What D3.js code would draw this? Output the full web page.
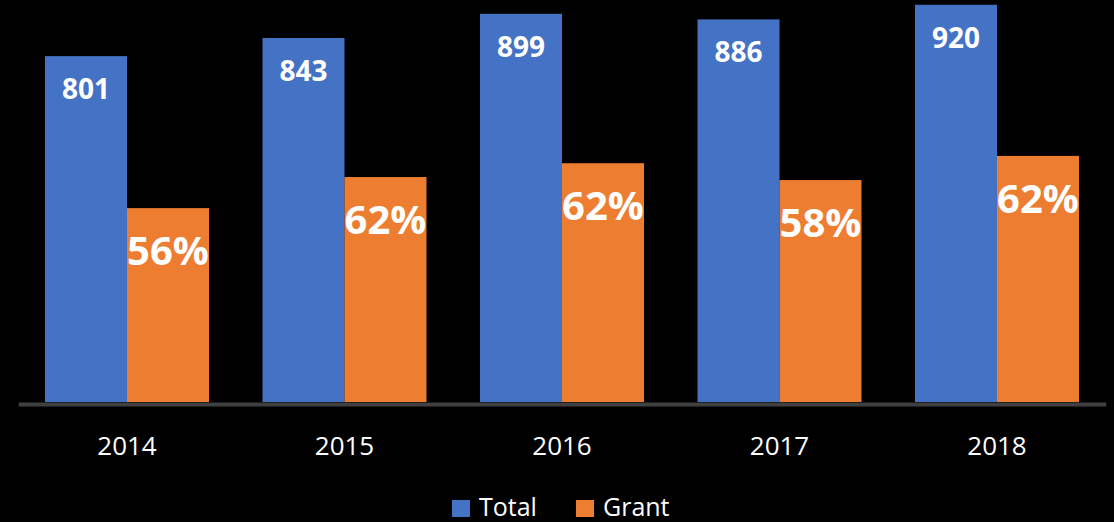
<!DOCTYPE html>
<html>
<head>
<meta charset="utf-8">
<script src="https://cdn.jsdelivr.net/npm/d3@7"></script>
<style>
  html, body { margin: 0; padding: 0; background: #000; }
  svg { display: block; }
</style>
</head>
<body>
<svg id="chart" width="1114" height="522"></svg>
<script>
// data
var years = ["2014", "2015", "2016", "2017", "2018"];
var totals = [801, 843, 899, 886, 920];
var grants = [449, 521, 553, 514, 570];
var grantPct = ["56%", "62%", "62%", "58%", "62%"];
var seriesNames = ["Total", "Grant"];
var colors = ["#4472C4", "#ED7D31"];

var width = 1114, height = 522;
var baseY = 402;

var svg = d3.select("#chart");
svg.append("rect").attr("width", width).attr("height", height).attr("fill", "#000");

var x = d3.scaleBand()
    .domain(years)
    .range([18.25, 1105.75])
    .paddingInner(0.246)
    .paddingOuter(0.123);

var xSub = d3.scaleBand()
    .domain(seriesNames)
    .range([0, x.bandwidth()]);

var y = d3.scaleLinear()
    .domain([0, 931])
    .range([baseY, 0]);

var rows = years.map((yr, i) => ({ year: yr, total: totals[i], grant: grants[i], pct: grantPct[i] }));

var g = svg.append("g");

// total bars
g.selectAll(".bar-total")
    .data(rows)
    .join("rect")
    .attr("class", "bar-total")
    .attr("x", d => x(d.year) + xSub("Total"))
    .attr("y", d => y(d.total))
    .attr("width", xSub.bandwidth())
    .attr("height", d => baseY - y(d.total))
    .attr("fill", colors[0]);

// grant bars
g.selectAll(".bar-grant")
    .data(rows)
    .join("rect")
    .attr("class", "bar-grant")
    .attr("x", d => x(d.year) + xSub("Grant"))
    .attr("y", d => y(d.grant))
    .attr("width", xSub.bandwidth())
    .attr("height", d => baseY - y(d.grant))
    .attr("fill", colors[1]);

// value labels
g.selectAll(".lbl-total")
    .data(rows)
    .join("text")
    .attr("class", "lbl-total")
    .attr("x", d => x(d.year) + xSub("Total") + xSub.bandwidth() / 2)
    .attr("y", d => y(d.total) + 43)
    .attr("text-anchor", "middle")
    .style("font-family", "'Open Sans', sans-serif")
    .style("font-weight", 700)
    .style("font-size", "28px")
    .style("fill", "#fff")
    .text(d => d.total);

g.selectAll(".lbl-grant")
    .data(rows)
    .join("text")
    .attr("class", "lbl-grant")
    .attr("x", d => x(d.year) + xSub("Grant") + xSub.bandwidth() / 2)
    .attr("y", d => y(d.grant) + 57)
    .attr("text-anchor", "middle")
    .style("font-family", "'Open Sans', sans-serif")
    .style("font-weight", 700)
    .style("font-size", "40px")
    .style("fill", "#fff")
    .text(d => d.pct);

// x axis
var xAxis = d3.axisBottom(x).tickSize(0).tickPadding(0).tickSizeOuter(0);
var axisG = svg.append("g")
    .attr("transform", "translate(0," + (baseY + 2) + ")")
    .call(xAxis);
axisG.select(".domain")
    .attr("stroke", "#404040")
    .attr("stroke-width", 4);
axisG.selectAll(".tick text")
    .attr("y", 51)
    .attr("dy", null)
    .style("font-family", "'Open Sans', sans-serif")
    .style("font-size", "26px")
    .style("fill", "#fff");

// legend
var legendItems = [
    { name: seriesNames[0], color: colors[0], x: 452 },
    { name: seriesNames[1], color: colors[1], x: 576 }
];
var leg = svg.append("g").selectAll("g")
    .data(legendItems)
    .join("g")
    .attr("transform", d => "translate(" + d.x + ",499)");
leg.append("rect")
    .attr("y", 1)
    .attr("width", 18)
    .attr("height", 17)
    .attr("fill", d => d.color);
leg.append("text")
    .attr("x", 27)
    .attr("y", 17)
    .style("font-family", "'Open Sans', sans-serif")
    .style("font-size", "25px")
    .style("fill", "#fff")
    .text(d => d.name);
</script>
</body>
</html>
